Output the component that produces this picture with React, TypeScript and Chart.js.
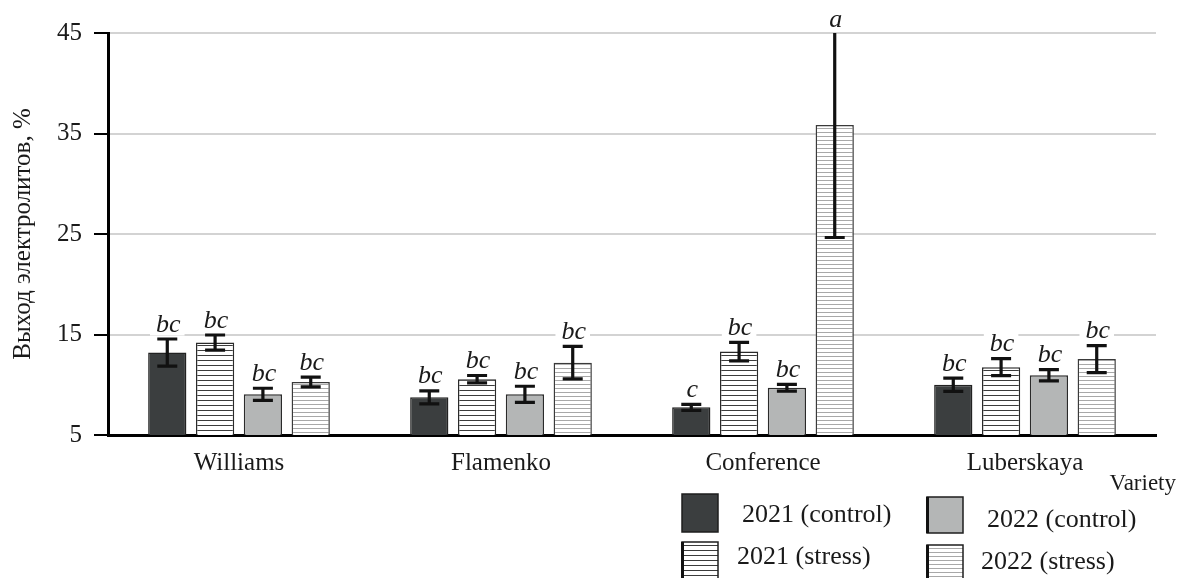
import React, { useEffect, useRef } from 'react';
import { Chart, registerables } from 'chart.js';

Chart.register(...registerables);

// Varieties on the x axis
const varieties = ['Williams', 'Flamenko', 'Conference', 'Luberskaya'];

// Series names (legend)
const seriesNames = ['2021 (control)', '2021 (stress)', '2022 (control)', '2022 (stress)'];

// Mean electrolyte leakage, %
const control2021 = [13.2, 8.75, 7.75, 10.0];
const stress2021 = [14.2, 10.55, 13.3, 11.75];
const control2022 = [9.05, 9.05, 9.7, 10.95];
const stress2022 = [10.27, 12.2, 35.85, 12.55];

// Error bar half-widths
const errControl2021 = [1.35, 0.65, 0.3, 0.65];
const errStress2021 = [0.75, 0.37, 0.92, 0.85];
const errControl2022 = [0.6, 0.8, 0.33, 0.56];
const errStress2022 = [0.48, 1.62, 11.2, 1.35];

// Significance letters
const lettersControl2021 = ['bc', 'bc', 'c', 'bc'];
const lettersStress2021 = ['bc', 'bc', 'bc', 'bc'];
const lettersControl2022 = ['bc', 'bc', 'bc', 'bc'];
const lettersStress2022 = ['bc', 'bc', 'a', 'bc'];

// Y axis ticks
const yTicks = [5, 15, 25, 35, 45];

const yTitle = 'Выход электролитов, %';
const xTitle = 'Variety';

const SERIF = "'Liberation Serif', 'Times New Roman', serif";

const values = [control2021, stress2021, control2022, stress2022];
const errors = [errControl2021, errStress2021, errControl2022, errStress2022];
const letters = [lettersControl2021, lettersStress2021, lettersControl2022, lettersStress2022];

function stripes(ctx: CanvasRenderingContext2D, line: string, gap: number) {
  const c = document.createElement('canvas');
  c.width = 8;
  c.height = gap;
  const g = c.getContext('2d')!;
  g.fillStyle = '#ffffff';
  g.fillRect(0, 0, 8, gap);
  g.fillStyle = line;
  g.fillRect(0, 0, 8, 1);
  return ctx.createPattern(c, 'repeat') as CanvasPattern;
}

export default function App() {
  const ref = useRef<HTMLCanvasElement | null>(null);

  useEffect(() => {
    const canvas = ref.current!;
    const ctx0 = canvas.getContext('2d')!;
    const darkStripe = stripes(ctx0, '#3c3c3c', 5);
    const lightStripe = stripes(ctx0, '#a8a8a8', 4);
    const fills: (string | CanvasPattern)[] = ['#3b3e3f', darkStripe, '#b4b6b6', lightStripe];
    const borders = ['#222222', '#2a2a2a', '#2a2a2a', '#3a3a3a'];

    const errorBars = {
      id: 'errorBars',
      afterDatasetsDraw(chart: any) {
        const { ctx, chartArea, scales } = chart;
        const y = scales.y;
        ctx.save();
        // whiskers
        values.forEach((series, i) => {
          const meta = chart.getDatasetMeta(i);
          series.forEach((v, j) => {
            const bar = meta.data[j];
            const e = errors[i][j];
            const rawTop = y.getPixelForValue(v + e);
            const clipped = rawTop < chartArea.top;
            const top = Math.max(rawTop, chartArea.top);
            const bot = y.getPixelForValue(v - e);
            ctx.strokeStyle = '#111111';
            ctx.lineWidth = 3.2;
            ctx.beginPath();
            ctx.moveTo(bar.x, top);
            ctx.lineTo(bar.x, bot);
            if (!clipped) {
              ctx.moveTo(bar.x - 10, top);
              ctx.lineTo(bar.x + 10, top);
            }
            ctx.moveTo(bar.x - 10, bot);
            ctx.lineTo(bar.x + 10, bot);
            ctx.stroke();
          });
        });
        // letters
        ctx.font = `italic 26px ${SERIF}`;
        ctx.textAlign = 'center';
        ctx.textBaseline = 'alphabetic';
        values.forEach((series, i) => {
          const meta = chart.getDatasetMeta(i);
          series.forEach((v, j) => {
            const bar = meta.data[j];
            const e = errors[i][j];
            const rawTop = y.getPixelForValue(v + e);
            const clipped = rawTop < chartArea.top;
            const top = clipped ? chartArea.top : rawTop - 1.5;
            const base = top - 6;
            const txt = letters[i][j];
            const w = ctx.measureText(txt).width;
            ctx.fillStyle = '#ffffff';
            ctx.fillRect(bar.x - w / 2 - 5, base - 20, w + 10, 24);
            ctx.fillStyle = '#1a1a1a';
            ctx.fillText(txt, bar.x + 1, base);
          });
        });
        ctx.restore();
      },
      afterDraw(chart: any) {
        const { ctx } = chart;
        ctx.save();
        ctx.fillStyle = '#1a1a1a';
        ctx.textBaseline = 'middle';
        ctx.font = `23px ${SERIF}`;
        ctx.textAlign = 'right';
        ctx.fillText(xTitle, 1176, 484);

        const items = [
          { box: [682, 494, 36, 38], tx: 742, ty: 515 },
          { box: [682, 542, 36, 38], tx: 737, ty: 557 },
          { box: [927, 497, 36, 36], tx: 987, ty: 520 },
          { box: [927, 545, 36, 36], tx: 981, ty: 562 },
        ];
        ctx.font = `26px ${SERIF}`;
        ctx.textAlign = 'left';
        items.forEach((it, i) => {
          const [bx, by, bw, bh] = it.box;
          ctx.fillStyle = fills[i];
          ctx.fillRect(bx, by, bw, bh);
          ctx.strokeStyle = '#1e1e1e';
          ctx.lineWidth = 1.5;
          ctx.strokeRect(bx, by, bw, bh);
          if (i > 0) {
            ctx.fillStyle = '#111111';
            ctx.fillRect(bx - 1, by, 3, bh);
          }
          ctx.fillStyle = '#1a1a1a';
          ctx.fillText(seriesNames[i], it.tx, it.ty);
        });
        ctx.restore();
      },
    };

    const chart = new Chart(canvas, {
      type: 'bar',
      data: {
        labels: varieties,
        datasets: values.map((series, i) => ({
          label: seriesNames[i],
          data: series,
          backgroundColor: fills[i],
          borderColor: borders[i],
          borderWidth: 1.5,
          categoryPercentage: 0.73,
          barPercentage: 0.8,
        })),
      },
      options: {
        responsive: false,
        animation: false,
        devicePixelRatio: 1,
        layout: { padding: { left: 0, top: 33, right: 23, bottom: 0 } },
        plugins: {
          legend: { display: false },
          tooltip: { enabled: false },
        },
        scales: {
          x: {
            grid: { display: false, drawTicks: false },
            border: { display: true, color: '#000000', width: 3 },
            ticks: {
              color: '#1a1a1a',
              padding: 13,
              font: { family: SERIF, size: 25 },
            },
            afterFit: (s: any) => {
              s.height = 143;
            },
          },
          y: {
            min: yTicks[0],
            max: yTicks[yTicks.length - 1],
            afterBuildTicks: (s: any) => {
              s.ticks = yTicks.map((v) => ({ value: v }));
            },
            grid: {
              color: (c: any) => (c.tick && c.tick.value === yTicks[0] ? 'rgba(0,0,0,0)' : '#d3d3d3'),
              lineWidth: 2,
              tickColor: '#000000',
              tickLength: 14,
              tickWidth: 2,
            },
            border: { display: true, color: '#000000', width: 3 },
            ticks: {
              color: '#1a1a1a',
              padding: 12,
              font: { family: SERIF, size: 25 },
            },
            title: {
              display: true,
              text: yTitle,
              color: '#1a1a1a',
              font: { family: SERIF, size: 25 },
              padding: { top: 8, bottom: 0 },
            },
            afterFit: (s: any) => {
              s.width = 108;
            },
          },
        },
      },
      plugins: [errorBars],
    });

    return () => chart.destroy();
  }, []);

  return (
    <div style={{ position: 'fixed', left: 0, top: 0, width: 1179, height: 578, background: '#ffffff' }}>
      <canvas ref={ref} width={1179} height={578} />
    </div>
  );
}
